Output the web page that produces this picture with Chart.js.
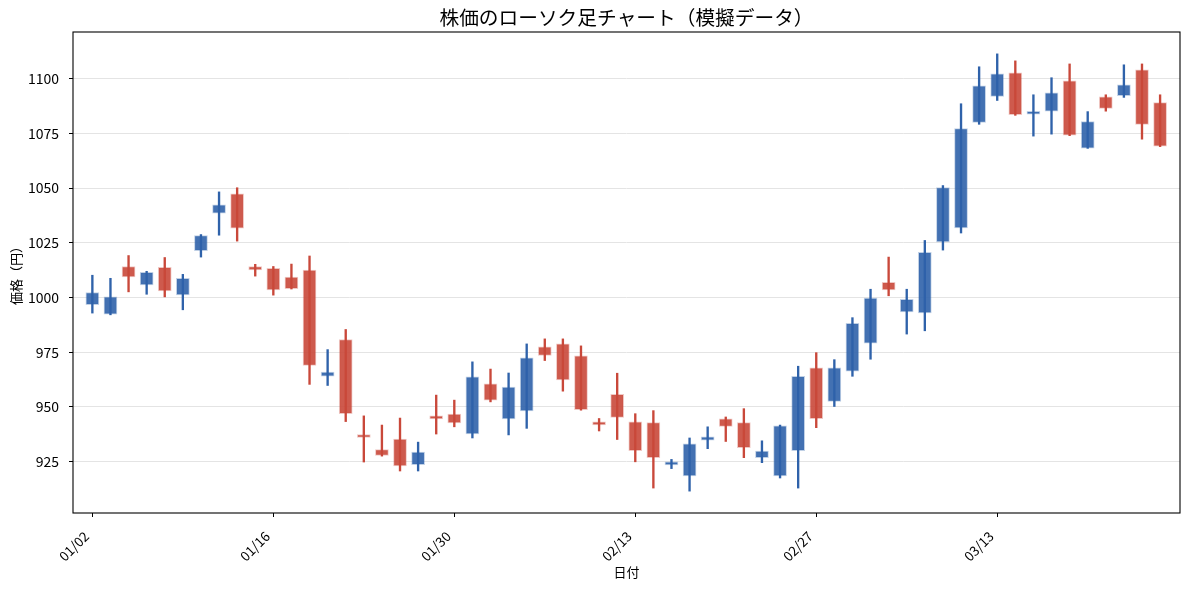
<!DOCTYPE html>
<html>
<head>
<meta charset="utf-8">
<script src="https://cdn.jsdelivr.net/npm/chart.js@4.4.1/dist/chart.umd.min.js"></script>
<style>
  html, body { margin: 0; padding: 0; background: #fff; }
  canvas { display: block; }
</style>
</head>
<body>
<canvas id="chartCanvas" width="1189" height="590" style="width:1189px;height:590px"></canvas>
<script>
// 営業日 (2023/01/02 - 2023/03/24)
const dates = [
  "01/02","01/03","01/04","01/05","01/06","01/09","01/10","01/11","01/12","01/13",
  "01/16","01/17","01/18","01/19","01/20","01/23","01/24","01/25","01/26","01/27",
  "01/30","01/31","02/01","02/02","02/03","02/06","02/07","02/08","02/09","02/10",
  "02/13","02/14","02/15","02/16","02/17","02/20","02/21","02/22","02/23","02/24",
  "02/27","02/28","03/01","03/02","03/03","03/06","03/07","03/08","03/09","03/10",
  "03/13","03/14","03/15","03/16","03/17","03/20","03/21","03/22","03/23","03/24"
];

const opens = [
  996.7, 992.4, 1014.2, 1005.8, 1013.8, 1001.2, 1021.4, 1038.6, 1047.4, 1014.1,
  1013.3, 1009.4, 1012.6, 964.0, 980.8, 936.3, 930.5, 935.3, 923.6, 945.1,
  946.7, 937.6, 960.5, 944.5, 948.2, 977.5, 978.8, 973.3, 942.8, 955.7,
  943.2, 942.8, 923.5, 918.5, 934.8, 944.6, 942.8, 926.8, 918.5, 930.0,
  967.9, 952.5, 966.3, 979.1, 1006.9, 993.4, 993.0, 1025.4, 1031.8, 1080.1,
  1091.9, 1102.7, 1083.8, 1085.2, 1099.1, 1068.3, 1091.8, 1092.3, 1104.1, 1089.1
];
const highs = [
  1010.2, 1008.8, 1019.2, 1012.0, 1018.3, 1010.6, 1028.8, 1048.3, 1050.2, 1015.2,
  1014.2, 1015.3, 1019.0, 976.2, 985.4, 945.9, 941.7, 944.9, 933.9, 955.4,
  953.1, 970.6, 967.3, 965.5, 978.8, 981.1, 981.1, 977.9, 944.7, 965.4,
  946.9, 948.3, 926.0, 935.8, 940.9, 945.4, 949.2, 934.5, 941.7, 968.6,
  974.8, 971.6, 990.8, 1003.8, 1018.5, 1003.8, 1026.1, 1051.2, 1088.6, 1105.5,
  1111.4, 1108.2, 1092.7, 1100.5, 1106.8, 1085.0, 1092.7, 1106.4, 1106.8, 1092.7
];
const lows = [
  992.9, 992.1, 1002.6, 1001.5, 1000.3, 994.4, 1018.5, 1028.5, 1025.8, 1009.8,
  1001.1, 1003.9, 960.3, 959.8, 943.3, 924.8, 927.5, 920.7, 920.7, 937.6,
  940.9, 935.8, 952.3, 937.2, 940.2, 971.2, 957.2, 948.5, 939.0, 935.1,
  924.9, 912.9, 921.8, 911.5, 930.9, 934.2, 926.8, 924.5, 917.5, 912.9,
  940.5, 950.2, 964.0, 971.8, 1000.8, 983.3, 984.8, 1021.7, 1029.5, 1079.2,
  1090.1, 1083.3, 1073.8, 1074.7, 1074.0, 1068.2, 1085.2, 1091.5, 1072.4, 1069.0
];
const closes = [
  1002.3, 1000.3, 1009.4, 1011.5, 1003.0, 1008.8, 1028.3, 1042.4, 1031.7, 1012.6,
  1003.5, 1004.1, 969.0, 965.9, 946.9, 936.0, 927.8, 923.0, 929.3, 944.5,
  942.7, 963.7, 953.1, 959.1, 972.4, 973.5, 962.3, 948.7, 941.8, 945.2,
  930.0, 926.8, 924.8, 933.1, 936.3, 941.1, 931.4, 929.8, 941.4, 964.0,
  944.6, 967.9, 988.2, 999.7, 1003.5, 999.2, 1020.7, 1050.3, 1077.2, 1096.8,
  1102.3, 1083.6, 1084.5, 1093.6, 1074.2, 1080.5, 1086.5, 1097.3, 1079.2, 1069.2
];

const xTickIdx = [0, 10, 20, 30, 40, 50];
const yTicks = [925, 950, 975, 1000, 1025, 1050, 1075, 1100];

const UP = "rgb(47, 98, 170)";
const DOWN = "rgb(201, 72, 58)";
const FONT = '"Noto Sans CJK JP", "Noto Sans", sans-serif';

const isUp = opens.map((o, i) => closes[i] >= o);
const wickColors = isUp.map(u => (u ? UP : DOWN));
const bodyColors = isUp.map(u => (u ? "rgba(47, 98, 170, 0.9)" : "rgba(201, 72, 58, 0.9)"));
const edgeColors = isUp.map(u => (u ? "rgba(47, 98, 170, 0.3)" : "rgba(201, 72, 58, 0.3)"));

// 枠線とタイトル
const frame = {
  id: "frame",
  afterDraw(chart) {
    const { ctx, chartArea: a } = chart;
    ctx.save();
    ctx.strokeStyle = "#000";
    ctx.lineWidth = 1.1;
    ctx.strokeRect(a.left, a.top, a.right - a.left, a.bottom - a.top);
    ctx.fillStyle = "#000";
    ctx.font = "19.7px " + FONT;
    ctx.textAlign = "center";
    ctx.textBaseline = "middle";
    ctx.fillText("株価のローソク足チャート（模擬データ）", (a.left + a.right) / 2, 18);
    ctx.restore();
  },
};

const ctx = document.getElementById("chartCanvas").getContext("2d");

new Chart(ctx, {
  type: "bar",
  data: {
    datasets: [
      {
        label: "実体",
        data: dates.map((d, i) => ({ x: i, y: [opens[i], closes[i]] })),
        backgroundColor: bodyColors,
        borderColor: edgeColors,
        borderWidth: 1,
        borderSkipped: false,
        barThickness: 13,
        minBarLength: 3,
        grouped: false,
        order: 1,
      },
      {
        label: "ヒゲ",
        data: dates.map((d, i) => ({ x: i, y: [lows[i], highs[i]] })),
        backgroundColor: wickColors,
        borderWidth: 0,
        barThickness: 1.7,
        grouped: false,
        order: 2,
      },
    ],
  },
  plugins: [frame],
  options: {
    responsive: false,
    animation: false,
    devicePixelRatio: 1,
    layout: { padding: { top: 32, right: 9, left: 0, bottom: 0 } },
    plugins: {
      legend: { display: false },
      tooltip: { enabled: false },
      title: { display: false },
    },
    scales: {
      x: {
        type: "linear",
        offset: false,
        min: -1.07,
        max: 60.1,
        afterBuildTicks: (axis) => {
          axis.ticks = xTickIdx.map(v => ({ value: v }));
        },
        afterFit: (scale) => { scale.height = 77; },
        grid: { offset: false, drawOnChartArea: false, drawTicks: true, tickLength: 4, tickColor: "#000" },
        border: { display: false },
        ticks: {
          minRotation: 45,
          maxRotation: 45,
          autoSkip: false,
          padding: 11,
          labelOffset: -6,
          color: "#000",
          font: { family: FONT, size: 13.5 },
          callback: (v) => dates[v],
        },
        title: {
          display: true,
          text: "日付",
          color: "#000",
          font: { family: FONT, size: 13 },
          padding: { top: 0, bottom: 10 },
        },
      },
      y: {
        min: 901.5,
        max: 1121.4,
        afterBuildTicks: (axis) => {
          axis.ticks = yTicks.map(v => ({ value: v }));
        },
        afterFit: (scale) => { scale.width = 73; },
        grid: { color: "#e4e4e4", lineWidth: 1, tickLength: 4, tickColor: "#000" },
        border: { display: false },
        ticks: {
          padding: 10,
          color: "#000",
          font: { family: FONT, size: 14 },
          callback: (v) => String(v),
        },
        title: {
          display: true,
          text: "価格（円）",
          color: "#000",
          font: { family: FONT, size: 13 },
          padding: { top: 8, bottom: 0 },
        },
      },
    },
  },
});
</script>
</body>
</html>
